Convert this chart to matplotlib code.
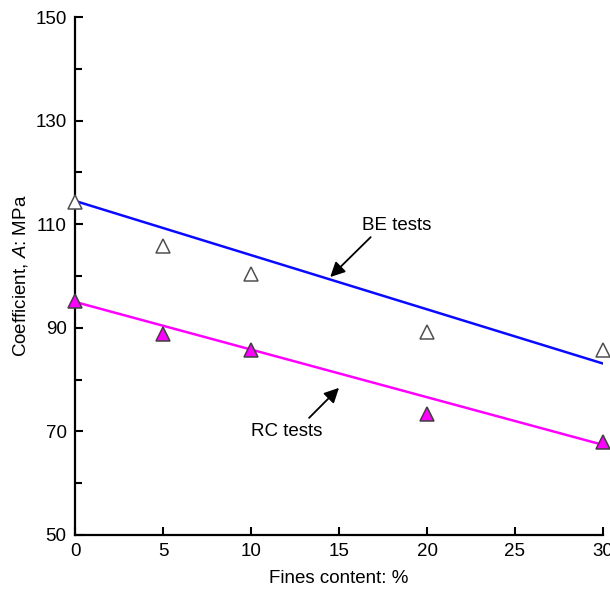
import matplotlib
matplotlib.use("Agg")
import matplotlib.pyplot as plt
from matplotlib.ticker import FixedLocator

plt.rcParams["font.family"] = ["Liberation Sans", "DejaVu Sans"]
plt.rcParams["mathtext.fontset"] = "custom"
plt.rcParams["mathtext.rm"] = "Liberation Sans"
plt.rcParams["mathtext.it"] = "Liberation Sans:italic"

# fines content (%) and measured coefficient A (MPa)
fines = [0, 5, 10, 20, 30]
be_tests = [114.2, 105.8, 100.4, 89.1, 85.8]
rc_tests = [95.2, 88.8, 85.7, 73.3, 68.0]

# fitted trend lines (end points)
fit_x = [0, 30]
be_fit = [114.5, 83.1]
rc_fit = [95.0, 67.4]

x_ticks = [0, 5, 10, 15, 20, 25, 30]
y_ticks = [50, 70, 90, 110, 130, 150]
y_minor = [60, 80, 100, 120, 140]

fig = plt.figure(figsize=(6.1, 5.91), dpi=100)
ax = fig.add_axes([0.123, 0.0948, 0.8655, 0.8764])

ax.plot(fit_x, be_fit, color="#0a0aff", lw=1.8, zorder=2)
ax.plot(fit_x, rc_fit, color="#ff00ff", lw=1.8, zorder=2)
ax.plot(fines, be_tests, ls="none", marker="^", ms=9.5, mfc="white",
        mec="#505050", mew=1.1, clip_on=False, zorder=3)
ax.plot(fines, rc_tests, ls="none", marker="^", ms=9.5, mfc="#ff00ff",
        mec="#404040", mew=1.1, clip_on=False, zorder=3)

# labels with arrows pointing at the lines
ax.text(18.3, 109.7, "BE tests", ha="center", va="center", fontsize=13.5)
ax.annotate("", xy=(14.5, 99.8), xytext=(16.8, 107.5),
            arrowprops=dict(arrowstyle="-|>", color="black", lw=1.3,
                            mutation_scale=22, shrinkA=0, shrinkB=0))
ax.text(12.0, 70.0, "RC tests", ha="center", va="center", fontsize=13.5)
ax.annotate("", xy=(15.0, 78.4), xytext=(13.3, 72.6),
            arrowprops=dict(arrowstyle="-|>", color="black", lw=1.3,
                            mutation_scale=22, shrinkA=0, shrinkB=0))

ax.set_xlim(0, 30)
ax.set_ylim(50, 150)
ax.set_xticks(x_ticks)
ax.set_yticks(y_ticks)
ax.yaxis.set_minor_locator(FixedLocator(y_minor))
ax.tick_params(which="both", direction="in", width=1.5, labelsize=13.5)
ax.tick_params(which="major", length=6, pad=6)
ax.tick_params(which="minor", length=5)
for side in ["top", "right"]:
    ax.spines[side].set_visible(False)
for side in ["left", "bottom"]:
    ax.spines[side].set_linewidth(1.6)

ax.set_xlabel("Fines content: %", fontsize=13.5, labelpad=7)
ax.set_ylabel("Coefficient, $\\it{A}$: MPa", fontsize=13.5, labelpad=4)

fig.savefig("out.png", dpi=100)
